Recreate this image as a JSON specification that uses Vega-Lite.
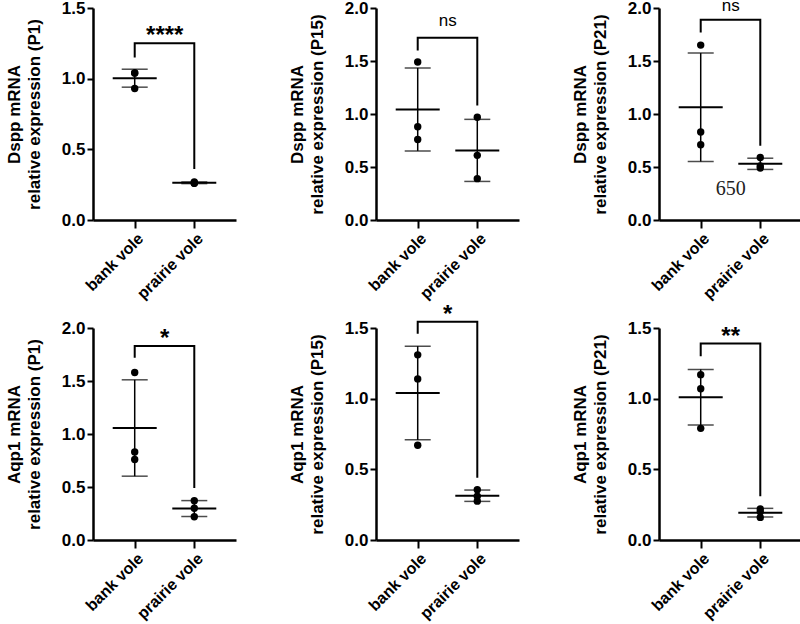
{
 "$schema": "https://vega.github.io/schema/vega-lite/v6.json",
 "background": "white",
 "padding": {"left": 5, "top": -4, "right": 0, "bottom": 0},
 "datasets": {
  "pts": [
   {"panel": "Dspp P1", "group": "bank vole", "value": 1.04},
   {"panel": "Dspp P1", "group": "bank vole", "value": 1.04},
   {"panel": "Dspp P1", "group": "bank vole", "value": 0.93},
   {"panel": "Dspp P1", "group": "prairie vole", "value": 0.26},
   {"panel": "Dspp P1", "group": "prairie vole", "value": 0.27},
   {"panel": "Dspp P1", "group": "prairie vole", "value": 0.26},
   {"panel": "Dspp P15", "group": "bank vole", "value": 1.49},
   {"panel": "Dspp P15", "group": "bank vole", "value": 0.88},
   {"panel": "Dspp P15", "group": "bank vole", "value": 0.76},
   {"panel": "Dspp P15", "group": "prairie vole", "value": 0.97},
   {"panel": "Dspp P15", "group": "prairie vole", "value": 0.61},
   {"panel": "Dspp P15", "group": "prairie vole", "value": 0.39},
   {"panel": "Dspp P21", "group": "bank vole", "value": 1.65},
   {"panel": "Dspp P21", "group": "bank vole", "value": 0.83},
   {"panel": "Dspp P21", "group": "bank vole", "value": 0.71},
   {"panel": "Dspp P21", "group": "prairie vole", "value": 0.59},
   {"panel": "Dspp P21", "group": "prairie vole", "value": 0.49},
   {"panel": "Dspp P21", "group": "prairie vole", "value": 0.51},
   {"panel": "Aqp1 P1", "group": "bank vole", "value": 1.58},
   {"panel": "Aqp1 P1", "group": "bank vole", "value": 0.83},
   {"panel": "Aqp1 P1", "group": "bank vole", "value": 0.76},
   {"panel": "Aqp1 P1", "group": "prairie vole", "value": 0.37},
   {"panel": "Aqp1 P1", "group": "prairie vole", "value": 0.30},
   {"panel": "Aqp1 P1", "group": "prairie vole", "value": 0.22},
   {"panel": "Aqp1 P15", "group": "bank vole", "value": 1.31},
   {"panel": "Aqp1 P15", "group": "bank vole", "value": 1.14},
   {"panel": "Aqp1 P15", "group": "bank vole", "value": 0.67},
   {"panel": "Aqp1 P15", "group": "prairie vole", "value": 0.355},
   {"panel": "Aqp1 P15", "group": "prairie vole", "value": 0.31},
   {"panel": "Aqp1 P15", "group": "prairie vole", "value": 0.275},
   {"panel": "Aqp1 P21", "group": "bank vole", "value": 1.17},
   {"panel": "Aqp1 P21", "group": "bank vole", "value": 1.07},
   {"panel": "Aqp1 P21", "group": "bank vole", "value": 0.79},
   {"panel": "Aqp1 P21", "group": "prairie vole", "value": 0.22},
   {"panel": "Aqp1 P21", "group": "prairie vole", "value": 0.20},
   {"panel": "Aqp1 P21", "group": "prairie vole", "value": 0.16}
  ],
  "brk": [
   {"panel": "Dspp P1", "group": "bank vole", "value": 1.15, "ord": 1},
   {"panel": "Dspp P1", "group": "bank vole", "value": 1.25, "ord": 2},
   {"panel": "Dspp P1", "group": "prairie vole", "value": 1.25, "ord": 3},
   {"panel": "Dspp P1", "group": "prairie vole", "value": 0.36, "ord": 4},
   {"panel": "Dspp P15", "group": "bank vole", "value": 1.60, "ord": 1},
   {"panel": "Dspp P15", "group": "bank vole", "value": 1.72, "ord": 2},
   {"panel": "Dspp P15", "group": "prairie vole", "value": 1.72, "ord": 3},
   {"panel": "Dspp P15", "group": "prairie vole", "value": 1.08, "ord": 4},
   {"panel": "Dspp P21", "group": "bank vole", "value": 1.77, "ord": 1},
   {"panel": "Dspp P21", "group": "bank vole", "value": 1.89, "ord": 2},
   {"panel": "Dspp P21", "group": "prairie vole", "value": 1.89, "ord": 3},
   {"panel": "Dspp P21", "group": "prairie vole", "value": 0.70, "ord": 4},
   {"panel": "Aqp1 P1", "group": "bank vole", "value": 1.72, "ord": 1},
   {"panel": "Aqp1 P1", "group": "bank vole", "value": 1.83, "ord": 2},
   {"panel": "Aqp1 P1", "group": "prairie vole", "value": 1.83, "ord": 3},
   {"panel": "Aqp1 P1", "group": "prairie vole", "value": 0.49, "ord": 4},
   {"panel": "Aqp1 P15", "group": "bank vole", "value": 1.46, "ord": 1},
   {"panel": "Aqp1 P15", "group": "bank vole", "value": 1.545, "ord": 2},
   {"panel": "Aqp1 P15", "group": "prairie vole", "value": 1.545, "ord": 3},
   {"panel": "Aqp1 P15", "group": "prairie vole", "value": 0.44, "ord": 4},
   {"panel": "Aqp1 P21", "group": "bank vole", "value": 1.30, "ord": 1},
   {"panel": "Aqp1 P21", "group": "bank vole", "value": 1.39, "ord": 2},
   {"panel": "Aqp1 P21", "group": "prairie vole", "value": 1.39, "ord": 3},
   {"panel": "Aqp1 P21", "group": "prairie vole", "value": 0.31, "ord": 4}
  ],
  "lab": [
   {"panel": "Dspp P1", "group": "bank vole", "value": 1.25, "label": "****"},
   {"panel": "Dspp P15", "group": "bank vole", "value": 1.83, "label": "ns"},
   {"panel": "Dspp P21", "group": "bank vole", "value": 1.975, "label": "ns"},
   {"panel": "Aqp1 P1", "group": "bank vole", "value": 1.83, "label": "*"},
   {"panel": "Aqp1 P15", "group": "bank vole", "value": 1.545, "label": "*"},
   {"panel": "Aqp1 P21", "group": "bank vole", "value": 1.39, "label": "**"}
  ],
  "note": [
   {"panel": "Dspp P21", "group": "bank vole", "value": 0.236, "label": "650"}
  ]
 },
 "concat": [
  {"width": 143, "height": 212, "layer": [
   {"data": {"name": "pts"}, "transform": [{"filter": "datum.panel === 'Dspp P1'"}],
    "mark": {"type": "point", "filled": true, "size": 55, "color": "black", "opacity": 1},
    "encoding": {
     "x": {"field": "group", "type": "nominal", "scale": {"type": "point", "padding": 0.7, "domain": ["bank vole", "prairie vole"]}, "axis": {"title": null}},
     "y": {"field": "value", "type": "quantitative", "scale": {"domain": [0, 1.5], "nice": false}, "axis": {"title": ["Dspp mRNA", "relative expression (P1)"], "values": [0, 0.5, 1, 1.5], "format": ".1f"}}}},
   {"data": {"name": "pts"}, "transform": [{"filter": "datum.panel === 'Dspp P1'"}],
    "mark": {"type": "errorbar", "extent": "stdev", "color": "black", "thickness": 1.5, "ticks": {"size": 26, "thickness": 1.5, "color": "black"}},
    "encoding": {"x": {"field": "group", "type": "nominal"}, "y": {"field": "value", "type": "quantitative", "axis": {"title": ["Dspp mRNA", "relative expression (P1)"]}}}},
   {"data": {"name": "pts"}, "transform": [{"filter": "datum.panel === 'Dspp P1'"}],
    "mark": {"type": "tick", "orient": "horizontal", "size": 44, "thickness": 2, "color": "black"},
    "encoding": {"x": {"field": "group", "type": "nominal"}, "y": {"aggregate": "mean", "field": "value", "type": "quantitative", "axis": {"title": ["Dspp mRNA", "relative expression (P1)"]}}}},
   {"data": {"name": "brk"}, "transform": [{"filter": "datum.panel === 'Dspp P1'"}],
    "mark": {"type": "line", "color": "black", "strokeWidth": 2, "strokeJoin": "miter"},
    "encoding": {"x": {"field": "group", "type": "nominal"}, "y": {"field": "value", "type": "quantitative", "axis": {"title": ["Dspp mRNA", "relative expression (P1)"]}}, "order": {"field": "ord", "type": "quantitative"}}},
   {"data": {"name": "lab"}, "transform": [{"filter": "datum.panel === 'Dspp P1'"}],
    "mark": {"type": "text", "dx": 30, "fontSize": 24, "fontWeight": "bold", "baseline": "alphabetic", "color": "black"},
    "encoding": {"x": {"field": "group", "type": "nominal"}, "y": {"field": "value", "type": "quantitative", "axis": {"title": ["Dspp mRNA", "relative expression (P1)"]}}, "text": {"field": "label"}}}
  ]},
  {"width": 143, "height": 212, "layer": [
   {"data": {"name": "pts"}, "transform": [{"filter": "datum.panel === 'Dspp P15'"}],
    "mark": {"type": "point", "filled": true, "size": 55, "color": "black", "opacity": 1},
    "encoding": {
     "x": {"field": "group", "type": "nominal", "scale": {"type": "point", "padding": 0.7, "domain": ["bank vole", "prairie vole"]}, "axis": {"title": null}},
     "y": {"field": "value", "type": "quantitative", "scale": {"domain": [0, 2], "nice": false}, "axis": {"title": ["Dspp mRNA", "relative expression (P15)"], "values": [0, 0.5, 1, 1.5, 2], "format": ".1f"}}}},
   {"data": {"name": "pts"}, "transform": [{"filter": "datum.panel === 'Dspp P15'"}],
    "mark": {"type": "errorbar", "extent": "stdev", "color": "black", "thickness": 1.5, "ticks": {"size": 26, "thickness": 1.5, "color": "black"}},
    "encoding": {"x": {"field": "group", "type": "nominal"}, "y": {"field": "value", "type": "quantitative", "axis": {"title": ["Dspp mRNA", "relative expression (P15)"]}}}},
   {"data": {"name": "pts"}, "transform": [{"filter": "datum.panel === 'Dspp P15'"}],
    "mark": {"type": "tick", "orient": "horizontal", "size": 44, "thickness": 2, "color": "black"},
    "encoding": {"x": {"field": "group", "type": "nominal"}, "y": {"aggregate": "mean", "field": "value", "type": "quantitative", "axis": {"title": ["Dspp mRNA", "relative expression (P15)"]}}}},
   {"data": {"name": "brk"}, "transform": [{"filter": "datum.panel === 'Dspp P15'"}],
    "mark": {"type": "line", "color": "black", "strokeWidth": 2, "strokeJoin": "miter"},
    "encoding": {"x": {"field": "group", "type": "nominal"}, "y": {"field": "value", "type": "quantitative", "axis": {"title": ["Dspp mRNA", "relative expression (P15)"]}}, "order": {"field": "ord", "type": "quantitative"}}},
   {"data": {"name": "lab"}, "transform": [{"filter": "datum.panel === 'Dspp P15'"}],
    "mark": {"type": "text", "dx": 30, "fontSize": 17, "fontWeight": "normal", "baseline": "alphabetic", "color": "black"},
    "encoding": {"x": {"field": "group", "type": "nominal"}, "y": {"field": "value", "type": "quantitative", "axis": {"title": ["Dspp mRNA", "relative expression (P15)"]}}, "text": {"field": "label"}}}
  ]},
  {"width": 143, "height": 212, "layer": [
   {"data": {"name": "pts"}, "transform": [{"filter": "datum.panel === 'Dspp P21'"}],
    "mark": {"type": "point", "filled": true, "size": 55, "color": "black", "opacity": 1},
    "encoding": {
     "x": {"field": "group", "type": "nominal", "scale": {"type": "point", "padding": 0.7, "domain": ["bank vole", "prairie vole"]}, "axis": {"title": null}},
     "y": {"field": "value", "type": "quantitative", "scale": {"domain": [0, 2], "nice": false}, "axis": {"title": ["Dspp mRNA", "relative expression (P21)"], "values": [0, 0.5, 1, 1.5, 2], "format": ".1f"}}}},
   {"data": {"name": "pts"}, "transform": [{"filter": "datum.panel === 'Dspp P21'"}],
    "mark": {"type": "errorbar", "extent": "stdev", "color": "black", "thickness": 1.5, "ticks": {"size": 26, "thickness": 1.5, "color": "black"}},
    "encoding": {"x": {"field": "group", "type": "nominal"}, "y": {"field": "value", "type": "quantitative", "axis": {"title": ["Dspp mRNA", "relative expression (P21)"]}}}},
   {"data": {"name": "pts"}, "transform": [{"filter": "datum.panel === 'Dspp P21'"}],
    "mark": {"type": "tick", "orient": "horizontal", "size": 44, "thickness": 2, "color": "black"},
    "encoding": {"x": {"field": "group", "type": "nominal"}, "y": {"aggregate": "mean", "field": "value", "type": "quantitative", "axis": {"title": ["Dspp mRNA", "relative expression (P21)"]}}}},
   {"data": {"name": "brk"}, "transform": [{"filter": "datum.panel === 'Dspp P21'"}],
    "mark": {"type": "line", "color": "black", "strokeWidth": 2, "strokeJoin": "miter"},
    "encoding": {"x": {"field": "group", "type": "nominal"}, "y": {"field": "value", "type": "quantitative", "axis": {"title": ["Dspp mRNA", "relative expression (P21)"]}}, "order": {"field": "ord", "type": "quantitative"}}},
   {"data": {"name": "lab"}, "transform": [{"filter": "datum.panel === 'Dspp P21'"}],
    "mark": {"type": "text", "dx": 30, "fontSize": 17, "fontWeight": "normal", "baseline": "alphabetic", "color": "black"},
    "encoding": {"x": {"field": "group", "type": "nominal"}, "y": {"field": "value", "type": "quantitative", "axis": {"title": ["Dspp mRNA", "relative expression (P21)"]}}, "text": {"field": "label"}}},
   {"data": {"name": "note"},
    "mark": {"type": "text", "dx": 30, "fontSize": 20, "font": "Liberation Serif", "fontWeight": "normal", "baseline": "alphabetic", "color": "#222222"},
    "encoding": {"x": {"field": "group", "type": "nominal"}, "y": {"field": "value", "type": "quantitative", "axis": {"title": ["Dspp mRNA", "relative expression (P21)"]}}, "text": {"field": "label"}}}
  ]},
  {"width": 143, "height": 212, "layer": [
   {"data": {"name": "pts"}, "transform": [{"filter": "datum.panel === 'Aqp1 P1'"}],
    "mark": {"type": "point", "filled": true, "size": 55, "color": "black", "opacity": 1},
    "encoding": {
     "x": {"field": "group", "type": "nominal", "scale": {"type": "point", "padding": 0.7, "domain": ["bank vole", "prairie vole"]}, "axis": {"title": null}},
     "y": {"field": "value", "type": "quantitative", "scale": {"domain": [0, 2], "nice": false}, "axis": {"title": ["Aqp1 mRNA", "relative expression (P1)"], "values": [0, 0.5, 1, 1.5, 2], "format": ".1f"}}}},
   {"data": {"name": "pts"}, "transform": [{"filter": "datum.panel === 'Aqp1 P1'"}],
    "mark": {"type": "errorbar", "extent": "stdev", "color": "black", "thickness": 1.5, "ticks": {"size": 26, "thickness": 1.5, "color": "black"}},
    "encoding": {"x": {"field": "group", "type": "nominal"}, "y": {"field": "value", "type": "quantitative", "axis": {"title": ["Aqp1 mRNA", "relative expression (P1)"]}}}},
   {"data": {"name": "pts"}, "transform": [{"filter": "datum.panel === 'Aqp1 P1'"}],
    "mark": {"type": "tick", "orient": "horizontal", "size": 44, "thickness": 2, "color": "black"},
    "encoding": {"x": {"field": "group", "type": "nominal"}, "y": {"aggregate": "mean", "field": "value", "type": "quantitative", "axis": {"title": ["Aqp1 mRNA", "relative expression (P1)"]}}}},
   {"data": {"name": "brk"}, "transform": [{"filter": "datum.panel === 'Aqp1 P1'"}],
    "mark": {"type": "line", "color": "black", "strokeWidth": 2, "strokeJoin": "miter"},
    "encoding": {"x": {"field": "group", "type": "nominal"}, "y": {"field": "value", "type": "quantitative", "axis": {"title": ["Aqp1 mRNA", "relative expression (P1)"]}}, "order": {"field": "ord", "type": "quantitative"}}},
   {"data": {"name": "lab"}, "transform": [{"filter": "datum.panel === 'Aqp1 P1'"}],
    "mark": {"type": "text", "dx": 30, "fontSize": 24, "fontWeight": "bold", "baseline": "alphabetic", "color": "black"},
    "encoding": {"x": {"field": "group", "type": "nominal"}, "y": {"field": "value", "type": "quantitative", "axis": {"title": ["Aqp1 mRNA", "relative expression (P1)"]}}, "text": {"field": "label"}}}
  ]},
  {"width": 143, "height": 212, "layer": [
   {"data": {"name": "pts"}, "transform": [{"filter": "datum.panel === 'Aqp1 P15'"}],
    "mark": {"type": "point", "filled": true, "size": 55, "color": "black", "opacity": 1},
    "encoding": {
     "x": {"field": "group", "type": "nominal", "scale": {"type": "point", "padding": 0.7, "domain": ["bank vole", "prairie vole"]}, "axis": {"title": null}},
     "y": {"field": "value", "type": "quantitative", "scale": {"domain": [0, 1.5], "nice": false}, "axis": {"title": ["Aqp1 mRNA", "relative expression (P15)"], "values": [0, 0.5, 1, 1.5], "format": ".1f"}}}},
   {"data": {"name": "pts"}, "transform": [{"filter": "datum.panel === 'Aqp1 P15'"}],
    "mark": {"type": "errorbar", "extent": "stdev", "color": "black", "thickness": 1.5, "ticks": {"size": 26, "thickness": 1.5, "color": "black"}},
    "encoding": {"x": {"field": "group", "type": "nominal"}, "y": {"field": "value", "type": "quantitative", "axis": {"title": ["Aqp1 mRNA", "relative expression (P15)"]}}}},
   {"data": {"name": "pts"}, "transform": [{"filter": "datum.panel === 'Aqp1 P15'"}],
    "mark": {"type": "tick", "orient": "horizontal", "size": 44, "thickness": 2, "color": "black"},
    "encoding": {"x": {"field": "group", "type": "nominal"}, "y": {"aggregate": "mean", "field": "value", "type": "quantitative", "axis": {"title": ["Aqp1 mRNA", "relative expression (P15)"]}}}},
   {"data": {"name": "brk"}, "transform": [{"filter": "datum.panel === 'Aqp1 P15'"}],
    "mark": {"type": "line", "color": "black", "strokeWidth": 2, "strokeJoin": "miter"},
    "encoding": {"x": {"field": "group", "type": "nominal"}, "y": {"field": "value", "type": "quantitative", "axis": {"title": ["Aqp1 mRNA", "relative expression (P15)"]}}, "order": {"field": "ord", "type": "quantitative"}}},
   {"data": {"name": "lab"}, "transform": [{"filter": "datum.panel === 'Aqp1 P15'"}],
    "mark": {"type": "text", "dx": 30, "fontSize": 24, "fontWeight": "bold", "baseline": "alphabetic", "color": "black"},
    "encoding": {"x": {"field": "group", "type": "nominal"}, "y": {"field": "value", "type": "quantitative", "axis": {"title": ["Aqp1 mRNA", "relative expression (P15)"]}}, "text": {"field": "label"}}}
  ]},
  {"width": 143, "height": 212, "layer": [
   {"data": {"name": "pts"}, "transform": [{"filter": "datum.panel === 'Aqp1 P21'"}],
    "mark": {"type": "point", "filled": true, "size": 55, "color": "black", "opacity": 1},
    "encoding": {
     "x": {"field": "group", "type": "nominal", "scale": {"type": "point", "padding": 0.7, "domain": ["bank vole", "prairie vole"]}, "axis": {"title": null}},
     "y": {"field": "value", "type": "quantitative", "scale": {"domain": [0, 1.5], "nice": false}, "axis": {"title": ["Aqp1 mRNA", "relative expression (P21)"], "values": [0, 0.5, 1, 1.5], "format": ".1f"}}}},
   {"data": {"name": "pts"}, "transform": [{"filter": "datum.panel === 'Aqp1 P21'"}],
    "mark": {"type": "errorbar", "extent": "stdev", "color": "black", "thickness": 1.5, "ticks": {"size": 26, "thickness": 1.5, "color": "black"}},
    "encoding": {"x": {"field": "group", "type": "nominal"}, "y": {"field": "value", "type": "quantitative", "axis": {"title": ["Aqp1 mRNA", "relative expression (P21)"]}}}},
   {"data": {"name": "pts"}, "transform": [{"filter": "datum.panel === 'Aqp1 P21'"}],
    "mark": {"type": "tick", "orient": "horizontal", "size": 44, "thickness": 2, "color": "black"},
    "encoding": {"x": {"field": "group", "type": "nominal"}, "y": {"aggregate": "mean", "field": "value", "type": "quantitative", "axis": {"title": ["Aqp1 mRNA", "relative expression (P21)"]}}}},
   {"data": {"name": "brk"}, "transform": [{"filter": "datum.panel === 'Aqp1 P21'"}],
    "mark": {"type": "line", "color": "black", "strokeWidth": 2, "strokeJoin": "miter"},
    "encoding": {"x": {"field": "group", "type": "nominal"}, "y": {"field": "value", "type": "quantitative", "axis": {"title": ["Aqp1 mRNA", "relative expression (P21)"]}}, "order": {"field": "ord", "type": "quantitative"}}},
   {"data": {"name": "lab"}, "transform": [{"filter": "datum.panel === 'Aqp1 P21'"}],
    "mark": {"type": "text", "dx": 30, "fontSize": 24, "fontWeight": "bold", "baseline": "alphabetic", "color": "black"},
    "encoding": {"x": {"field": "group", "type": "nominal"}, "y": {"field": "value", "type": "quantitative", "axis": {"title": ["Aqp1 mRNA", "relative expression (P21)"]}}, "text": {"field": "label"}}}
  ]}
 ],
 "columns": 3,
 "spacing": {"row": 108, "column": 140},
 "bounds": "flush",
 "config": {
  "view": {"stroke": null},
  "font": "Liberation Sans",
  "axis": {"domainColor": "black", "domainWidth": 2.5, "tickColor": "black", "tickWidth": 2, "labelColor": "black", "titleColor": "black", "labelFont": "Liberation Sans", "titleFont": "Liberation Sans", "labelFontWeight": "bold", "titleFontWeight": "bold", "labelFontSize": 17, "titleFontSize": 17, "grid": false},
  "axisY": {"tickSize": 6, "labelPadding": 2, "titlePadding": 18, "titleLineHeight": 20},
  "axisX": {"tickSize": 8, "labelAngle": -45, "labelPadding": 2, "labelFontSize": 16}
 }
}
